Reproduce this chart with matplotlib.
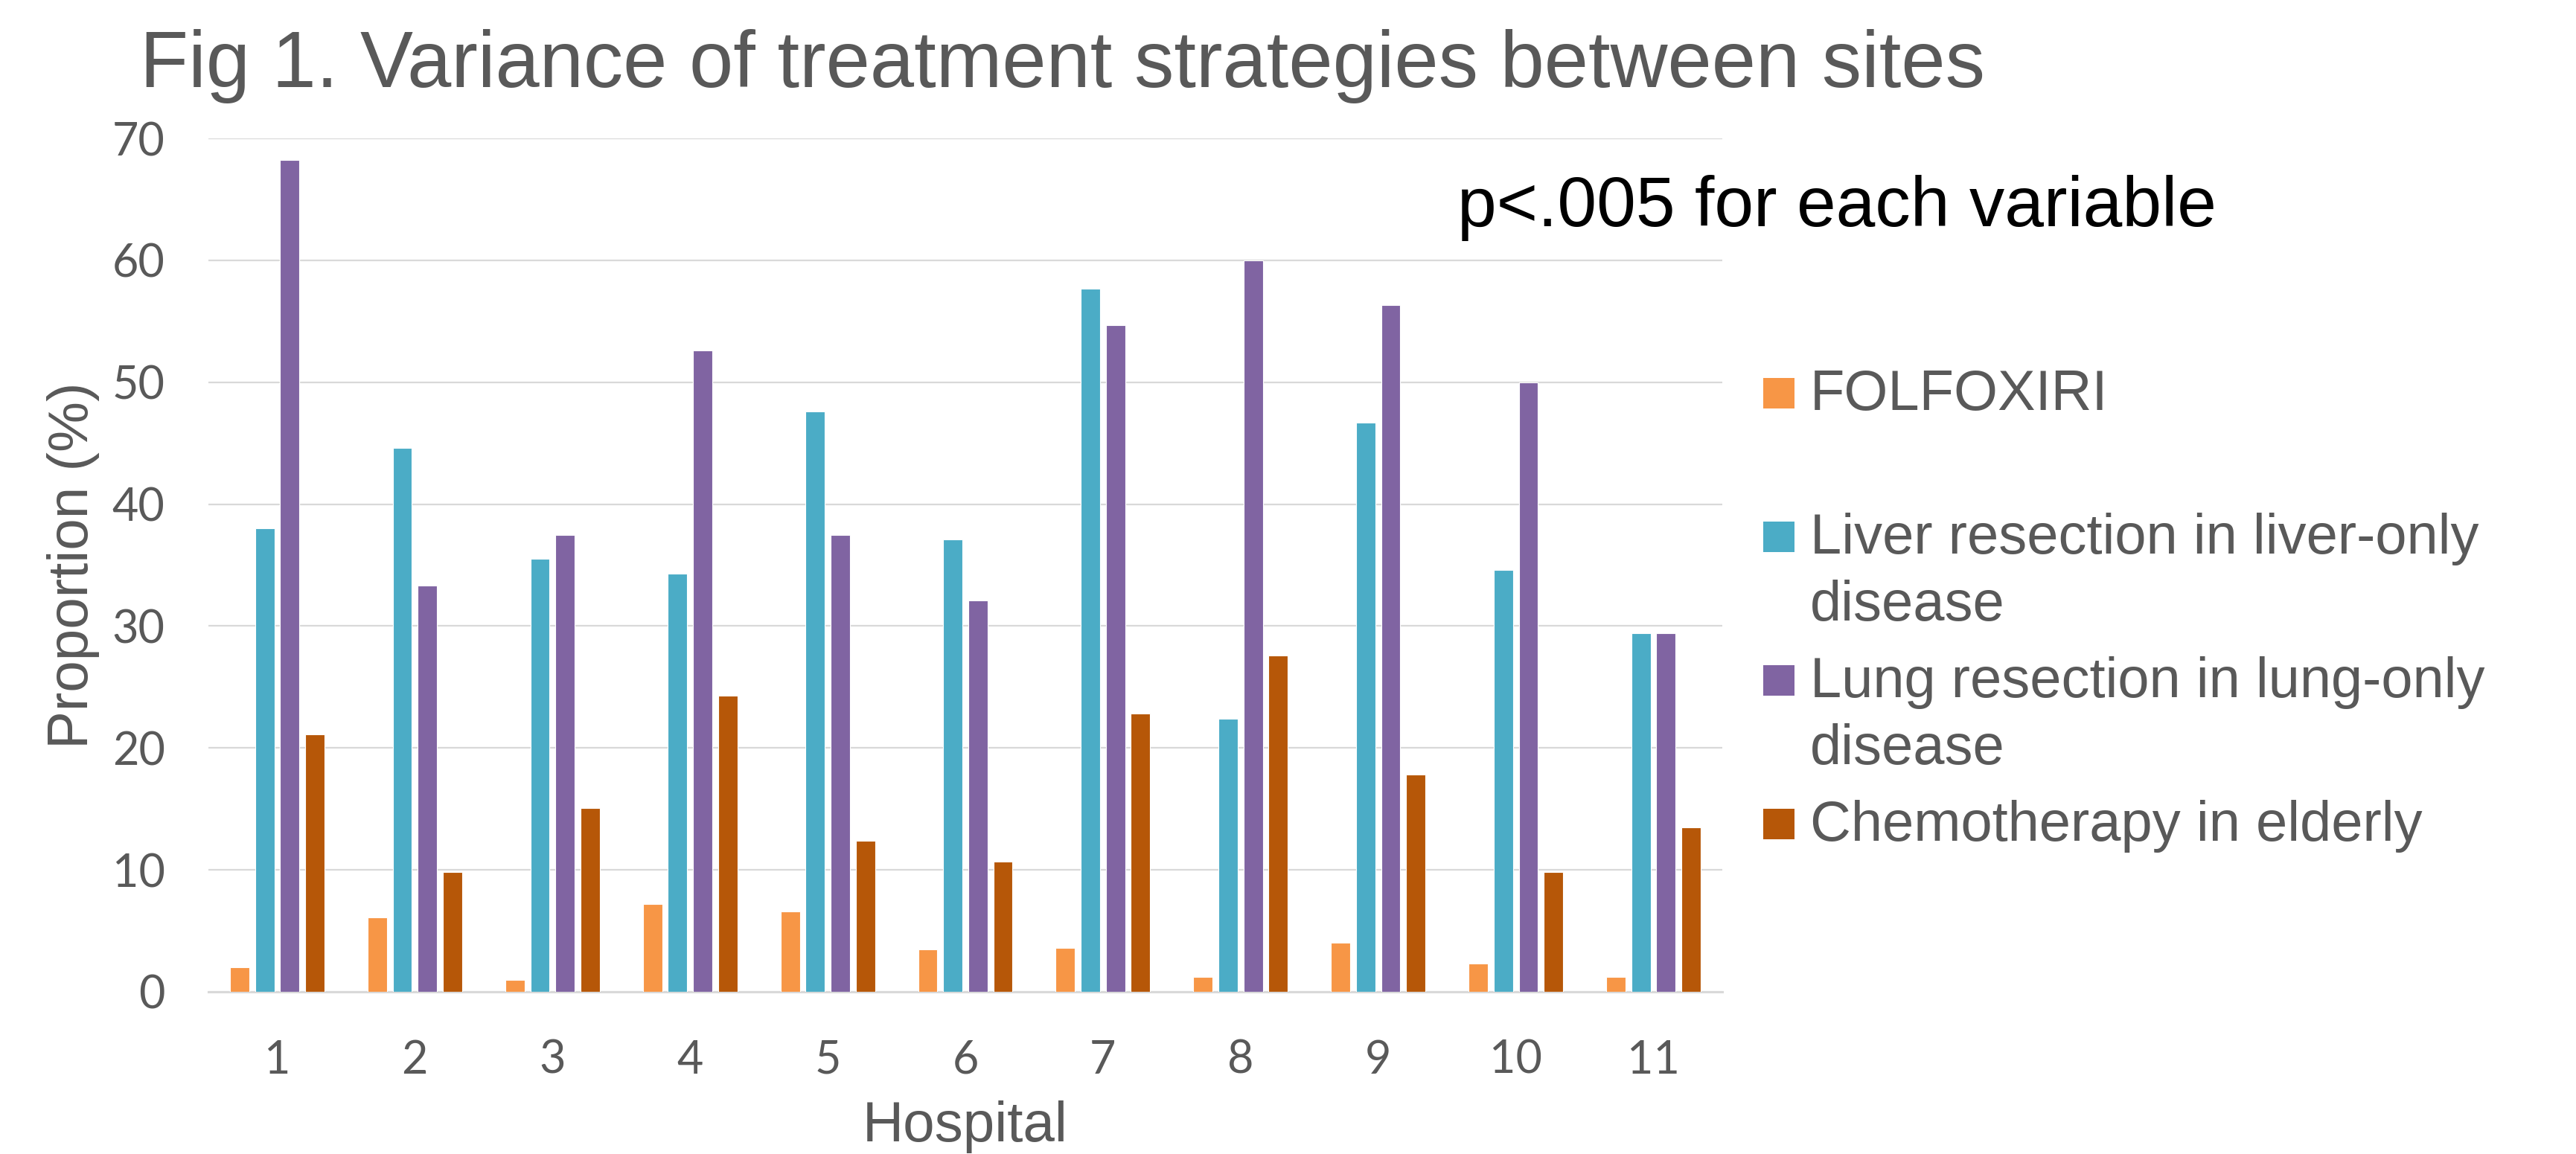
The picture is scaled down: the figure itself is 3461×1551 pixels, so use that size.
import numpy as np
import matplotlib.pyplot as plt
from matplotlib.patches import Rectangle

hospitals = ['1', '2', '3', '4', '5', '6', '7', '8', '9', '10', '11']
series = ['FOLFOXIRI',
          'Liver resection in liver-only\ndisease',
          'Lung resection in lung-only\ndisease',
          'Chemotherapy in elderly']
folfoxiri = [2.0, 6.1, 1.0, 7.2, 6.6, 3.5, 3.6, 1.2, 4.0, 2.3, 1.2]
liver_resection = [38.0, 44.6, 35.5, 34.3, 47.6, 37.1, 57.7, 22.4, 46.7, 34.6, 29.4]
lung_resection = [68.2, 33.3, 37.5, 52.6, 37.5, 32.1, 54.7, 60.0, 56.3, 50.0, 29.4]
chemo_elderly = [21.1, 9.8, 15.1, 24.3, 12.4, 10.7, 22.8, 27.6, 17.8, 9.8, 13.5]
colors = ['#F79646', '#4BACC6', '#8064A2', '#B65708']

gray = '#595959'
W, H = 3462, 1551
fig = plt.figure(figsize=(W / 100, H / 100), dpi=100)
ax = fig.add_axes([280 / W, 1 - 1333 / H, 2034 / W, 1147 / H])

x = np.arange(len(hospitals))
pitch = 0.182
width = 0.14
values = [folfoxiri, liver_resection, lung_resection, chemo_elderly]
for i, (vals, c) in enumerate(zip(values, colors)):
    ax.bar(x + (i - 1.5) * pitch, vals, width, color=c, edgecolor='white',
           linewidth=0.8, zorder=3)

ax.set_xlim(-0.5, len(hospitals) - 0.5)
ax.set_ylim(0, 70)
ax.set_yticks(range(0, 71, 10))
ax.set_xticks(x)
ax.set_xticklabels(hospitals)
ax.grid(axis='y', color='#D9D9D9', linewidth=1.6, zorder=0)
for s in ['top', 'right', 'left']:
    ax.spines[s].set_visible(False)
ax.spines['bottom'].set_color('#D9D9D9')
ax.spines['bottom'].set_linewidth(2.2)
ax.tick_params(axis='both', length=0, labelsize=44, colors=gray)
ax.tick_params(axis='x', pad=46)
ax.tick_params(axis='y', pad=42)
for lab in ax.get_xticklabels() + ax.get_yticklabels():
    lab.set_family('Lato')

ax.set_xlabel('Hospital', fontsize=55, color=gray, family='Liberation Sans', va='center')
ax.xaxis.set_label_coords(0.5, (1333 - 1515) / 1147)
ax.set_ylabel('Proportion (%)', fontsize=55, color=gray, family='Liberation Sans', va='center')
ax.yaxis.set_label_coords((99 - 280) / 2034, 0.5)

fig.text(188 / W, 1 - 117 / H, 'Fig 1. Variance of treatment strategies between sites',
         fontsize=76.7, color=gray, family='Liberation Sans', va='baseline')
fig.text(1958 / W, 1 - 304 / H, 'p<.005 for each variable',
         fontsize=68.2, color='black', family='Liberation Sans', va='baseline')

# legend drawn by hand so the entries keep an even two-line spacing
for i, (name, c) in enumerate(zip(series, colors)):
    base = 551 + 193 * i
    fig.patches.append(Rectangle((2369 / W, 1 - (base - 2) / H), 42 / W, 41 / H,
                                 transform=fig.transFigure, facecolor=c,
                                 edgecolor='none'))
    for j, line in enumerate(name.split('\n')):
        fig.text(2432 / W, 1 - (base + 90 * j) / H, line, fontsize=54.6,
                 color=gray, family='Liberation Sans', va='baseline')

fig.savefig('out.png', dpi=100)
